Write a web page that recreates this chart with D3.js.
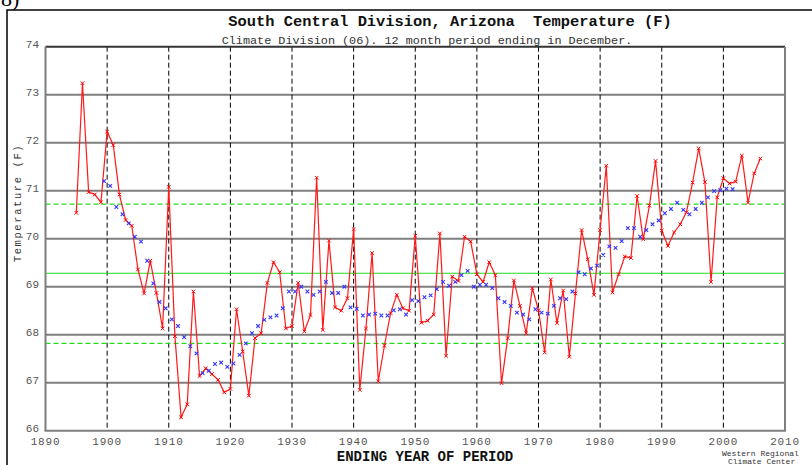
<!DOCTYPE html>
<html><head><meta charset="utf-8">
<script src="https://cdn.jsdelivr.net/npm/d3@7"></script>
<style>body{margin:0;background:#fff;} svg{display:block;} text{white-space:pre;}</style>
</head><body><svg id="c" width="812" height="465"></svg>
<script>
// ---- data ----
const annualYears = d3.range(1895, 2007);
const annualTemps = [
  70.54,73.24,70.97,70.92,70.76,72.23,71.95,70.92,70.39,70.27,
  69.36,68.86,69.54,68.87,68.13,71.08,67.97,66.28,66.55,68.90,
  67.14,67.30,67.18,67.06,66.80,66.87,68.53,67.65,66.73,67.93,
  68.03,69.08,69.51,69.30,68.13,68.18,69.08,68.07,68.41,71.27,
  68.10,69.96,68.57,68.50,68.76,70.20,66.85,68.13,69.70,67.03,
  67.77,68.45,68.83,68.55,68.50,70.06,68.25,68.29,68.42,70.11,
  67.56,69.21,69.12,70.04,69.94,69.26,69.10,69.51,69.24,66.99,
  67.93,69.13,68.60,68.03,68.97,68.51,67.63,69.15,68.24,68.92,
  67.54,68.86,70.18,69.57,68.83,70.18,71.52,68.88,69.26,69.63,
  69.60,70.89,69.99,70.69,71.62,70.17,69.85,70.13,70.30,70.55,
  71.17,71.88,71.18,69.10,70.86,71.26,71.15,71.19,71.73,70.75,
  71.36,71.67
];
const smoothYears = d3.range(1899.5, 2002, 1);
const smoothTemps = [
  71.20,71.10,70.66,70.51,70.32,70.04,69.94,69.54,69.07,68.68,
  68.55,68.32,68.18,67.95,67.76,67.61,67.20,67.25,67.39,67.42,
  67.33,67.40,67.58,67.82,68.03,68.18,68.31,68.36,68.40,68.55,
  68.90,68.90,69.00,68.90,68.83,68.90,69.10,68.87,68.87,69.00,
  68.57,68.54,68.40,68.42,68.44,68.40,68.40,68.51,68.53,68.42,
  68.72,68.70,68.78,68.82,68.95,69.10,69.02,69.10,69.24,69.33,
  69.00,69.04,69.04,68.97,68.76,68.68,68.60,68.46,68.42,68.32,
  68.53,68.46,68.44,68.60,68.76,68.74,68.90,69.30,69.26,69.38,
  69.44,69.66,69.84,69.81,69.95,70.22,70.22,70.04,70.18,70.30,
  70.38,70.53,70.62,70.75,70.60,70.51,70.62,70.75,70.86,70.99,
  71.01,71.04,71.03
];
const yTicks = [66,67,68,69,70,71,72,73,74];
const xTicks = [1890,1900,1910,1920,1930,1940,1950,1960,1970,1980,1990,2000,2010];
const meanTemp = 69.28, upperTemp = 70.72, lowerTemp = 67.82;

const title = "South Central Division, Arizona  Temperature (F)";
const subtitle = "Climate Division (06). 12 month period ending in December.";

// ---- chart ----
const svg = d3.select('#c');
const x = d3.scaleLinear().domain([1890, 2010]).range([45.5, 785]);
const y = d3.scaleLinear().domain([66, 74]).range([430.7, 46.7]);
const mono = "'Liberation Mono', 'DejaVu Sans Mono', monospace";

// partial label at top-left and outer frame
svg.append('text').attr('x', 1).attr('y', 6).attr('font-family', "'Liberation Serif', serif")
  .attr('font-size', 22).attr('fill', '#000').text('8)');
svg.append('rect').attr('x', 7).attr('y', 10).attr('width', 820).attr('height', 470)
  .attr('fill', 'none').attr('stroke', '#000').attr('stroke-width', 1.5);

// titles
svg.append('text').attr('x', 450).attr('y', 26).attr('text-anchor', 'middle')
  .attr('font-family', mono).attr('font-weight', 'bold').attr('font-size', 15.4).attr('fill', '#111').text(title);
svg.append('text').attr('x', 427).attr('y', 44).attr('text-anchor', 'middle')
  .attr('font-family', mono).attr('font-size', 11.8).attr('fill', '#333').text(subtitle);

const [x0, x1] = x.range();
const [yb, yt] = y.range();

// horizontal gridlines
svg.append('g').selectAll('line').data(yTicks.filter(t => t > 66 && t < 74)).join('line')
  .attr('x1', x0).attr('x2', x1).attr('y1', d => y(d)).attr('y2', d => y(d))
  .attr('stroke', '#7f7f7f').attr('stroke-width', 2);

// vertical dashed lines
svg.append('g').selectAll('line').data(xTicks.filter(t => t > 1890 && t < 2010)).join('line')
  .attr('x1', d => x(d)).attr('x2', d => x(d)).attr('y1', yt).attr('y2', yb)
  .attr('stroke', '#000').attr('stroke-width', 1).attr('stroke-dasharray', '5,3');

// reference lines
const refs = [{v: upperTemp, dash: '5,3'}, {v: meanTemp, dash: null}, {v: lowerTemp, dash: '5,3'}];
svg.append('g').selectAll('line').data(refs).join('line')
  .attr('x1', x0).attr('x2', x1).attr('y1', d => y(d.v)).attr('y2', d => y(d.v))
  .attr('stroke', '#22dd22').attr('stroke-width', 1.2)
  .attr('stroke-dasharray', d => d.dash);

// annual series
const annual = annualYears.map((yr, i) => ({yr, v: annualTemps[i]}));
svg.append('path').datum(annual)
  .attr('d', d3.line().x(d => x(d.yr)).y(d => y(d.v)))
  .attr('fill', 'none').attr('stroke', '#ff1a1a').attr('stroke-width', 1.2);
const xMark = (s) => `M${-s},${-s}L${s},${s}M${-s},${s}L${s},${-s}`;
svg.append('g').selectAll('path').data(annual).join('path')
  .attr('transform', d => `translate(${x(d.yr)},${y(d.v)})`)
  .attr('d', xMark(1.8)).attr('stroke', '#ff0000').attr('stroke-width', 1).attr('fill', 'none');

// smoothed series markers
const smooth = smoothYears.map((yr, i) => ({yr, v: smoothTemps[i]}));
svg.append('g').selectAll('path').data(smooth).join('path')
  .attr('transform', d => `translate(${x(d.yr)},${y(d.v)})`)
  .attr('d', xMark(1.8)).attr('stroke', '#3535ff').attr('stroke-width', 1.1).attr('fill', 'none');

// frame
svg.append('line').attr('x1', x0).attr('x2', x1).attr('y1', yt).attr('y2', yt).attr('stroke', '#333').attr('stroke-width', 2);
svg.append('line').attr('x1', x0 - 1).attr('x2', x1 + 1).attr('y1', yb).attr('y2', yb).attr('stroke', '#7f7f7f').attr('stroke-width', 2);
svg.append('line').attr('x1', x0).attr('x2', x0).attr('y1', yt).attr('y2', yb).attr('stroke', '#7f7f7f').attr('stroke-width', 2);
svg.append('line').attr('x1', x1).attr('x2', x1).attr('y1', yt).attr('y2', yb).attr('stroke', '#7f7f7f').attr('stroke-width', 2);

// y axis labels
svg.append('g').selectAll('text').data(yTicks).join('text')
  .attr('x', 39).attr('y', d => y(d)).attr('dy', '0.1em').attr('text-anchor', 'end')
  .attr('font-family', mono).attr('font-size', 11).attr('fill', '#555').text(d => d);

// x axis labels
svg.append('g').selectAll('text').data(xTicks).join('text')
  .attr('x', d => x(d)).attr('y', 444.5).attr('text-anchor', 'middle')
  .attr('font-family', mono).attr('font-size', 11).attr('letter-spacing', 0.8).attr('fill', '#555').text(d => d);

// axis titles
svg.append('text').attr('transform', 'translate(21,203) rotate(-90)').attr('text-anchor', 'middle')
  .attr('font-family', mono).attr('font-size', 10.5).attr('letter-spacing', 1.6).attr('fill', '#333')
  .text('Temperature (F)');
svg.append('text').attr('x', 425).attr('y', 461).attr('text-anchor', 'middle')
  .attr('font-family', mono).attr('font-weight', 'bold').attr('font-size', 14).attr('fill', '#111')
  .text('ENDING YEAR OF PERIOD');
svg.append('text').attr('x', 722).attr('y', 455.5).attr('font-family', mono).attr('font-size', 8).attr('fill', '#333').text('Western Regional');
svg.append('text').attr('x', 728).attr('y', 464).attr('font-family', mono).attr('font-size', 8).attr('fill', '#333').text('Climate Center');
</script>
</body></html>
